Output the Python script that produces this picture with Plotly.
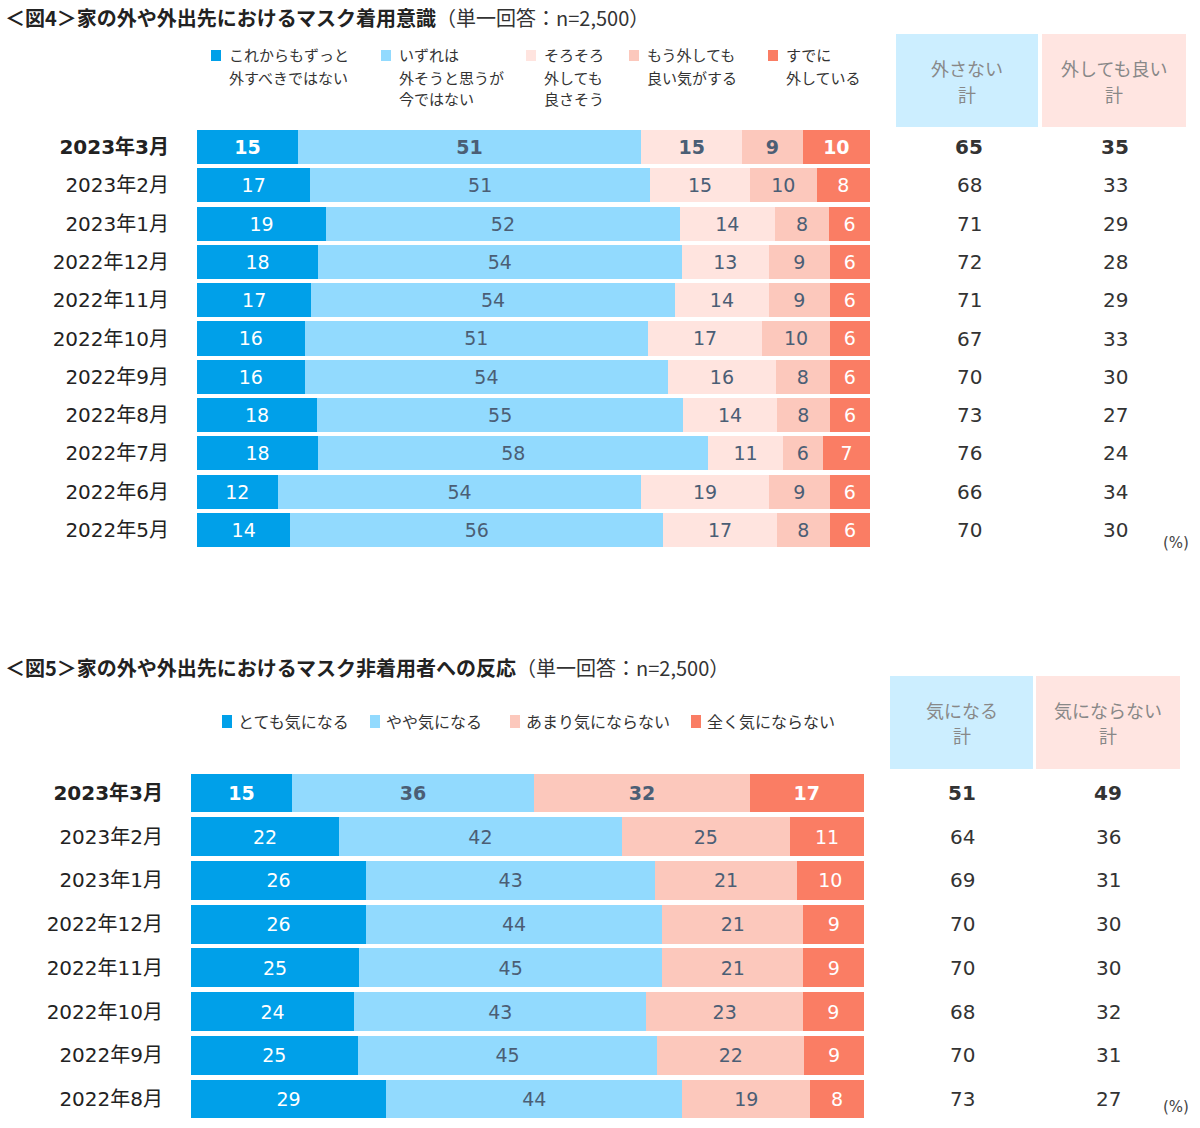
import plotly.graph_objects as go

W, H = 1200, 1128
FONT = "Noto Sans CJK JP"
NUMFONT = "DejaVu Sans, Noto Sans CJK JP"

# ---------- Data: Figure 4 ----------
months1 = ["2023年3月", "2023年2月", "2023年1月", "2022年12月", "2022年11月", "2022年10月",
           "2022年9月", "2022年8月", "2022年7月", "2022年6月", "2022年5月"]
series1_names = ["これからもずっと<br>外すべきではない", "いずれは<br>外そうと思うが<br>今ではない",
                 "そろそろ<br>外しても<br>良さそう", "もう外しても<br>良い気がする", "すでに<br>外している"]
s1_never = [15, 17, 19, 18, 17, 16, 16, 18, 18, 12, 14]
s1_notyet = [51, 51, 52, 54, 54, 51, 54, 55, 58, 54, 56]
s1_soon = [15, 15, 14, 13, 14, 17, 16, 14, 11, 19, 17]
s1_ok = [9, 10, 8, 9, 9, 10, 8, 8, 6, 9, 8]
s1_already = [10, 8, 6, 6, 6, 6, 6, 6, 7, 6, 6]
total1_keep = [65, 68, 71, 72, 71, 67, 70, 73, 76, 66, 70]
total1_remove = [35, 33, 29, 28, 29, 33, 30, 27, 24, 34, 30]
header1 = ["外さない<br>計", "外しても良い<br>計"]

# ---------- Data: Figure 5 ----------
months2 = ["2023年3月", "2023年2月", "2023年1月", "2022年12月", "2022年11月", "2022年10月",
           "2022年9月", "2022年8月"]
series2_names = ["とても気になる", "やや気になる", "あまり気にならない", "全く気にならない"]
s2_very = [15, 22, 26, 26, 25, 24, 25, 29]
s2_some = [36, 42, 43, 44, 45, 43, 45, 44]
s2_notmuch = [32, 25, 21, 21, 21, 23, 22, 19]
s2_notatall = [17, 11, 10, 9, 9, 9, 9, 8]
total2_mind = [51, 64, 69, 70, 70, 68, 70, 73]
total2_nomind = [49, 36, 31, 30, 30, 32, 31, 27]
header2 = ["気になる<br>計", "気にならない<br>計"]

title1_bold = "＜図4＞家の外や外出先におけるマスク着用意識"
title2_bold = "＜図5＞家の外や外出先におけるマスク非着用者への反応"
title_sub = "（単一回答：n=2,500）"

# ---------- Styles ----------
C_DARK = "#00A0E9"
C_LIGHT = "#92DAFE"
C_PALE = "#FFE4DF"
C_SALMON_L = "#FCC8BC"
C_SALMON = "#FA7D64"
TXT_SLATE = "#4B5E75"
HDR_BLUE = "#CCEEFF"
HDR_PINK = "#FFE5E1"

def px_x(x):
    return x / W

def px_y(y):
    return 1 - y / H

def bold_first(vals):
    return [f"<b>{v}</b>" if i == 0 else str(v) for i, v in enumerate(vals)]

fig = go.Figure()

colors1 = [C_DARK, C_LIGHT, C_PALE, C_SALMON_L, C_SALMON]
txtc1 = ["white", TXT_SLATE, TXT_SLATE, TXT_SLATE, "white"]
for name, vals, c, tc in zip(series1_names, [s1_never, s1_notyet, s1_soon, s1_ok, s1_already], colors1, txtc1):
    fig.add_trace(go.Bar(
        y=months1, x=vals, orientation="h", name=name, marker=dict(color=c, line=dict(width=0)),
        text=bold_first(vals), textposition="inside", insidetextanchor="middle", textangle=0,
        insidetextfont=dict(color=tc, size=19, family=NUMFONT), constraintext="none",
        xaxis="x", yaxis="y", showlegend=False, hoverinfo="skip"))

colors2 = [C_DARK, C_LIGHT, C_SALMON_L, C_SALMON]
txtc2 = ["white", TXT_SLATE, TXT_SLATE, "white"]
for name, vals, c, tc in zip(series2_names, [s2_very, s2_some, s2_notmuch, s2_notatall], colors2, txtc2):
    fig.add_trace(go.Bar(
        y=months2, x=vals, orientation="h", name=name, marker=dict(color=c, line=dict(width=0)),
        text=bold_first(vals), textposition="inside", insidetextanchor="middle", textangle=0,
        insidetextfont=dict(color=tc, size=19, family=NUMFONT), constraintext="none",
        xaxis="x2", yaxis="y2", showlegend=False, hoverinfo="skip"))

# axis geometry (pixels)
c1_top, c1_bot = 147 - 38.3 / 2, 530 + 38.3 / 2
c2_top, c2_bot = 793 - 43.7 / 2, 1099 + 43.7 / 2

ticks1 = [f"<b>{m}</b>" if i == 0 else m for i, m in enumerate(months1)]
ticks2 = [f"<b>{m}</b>" if i == 0 else m for i, m in enumerate(months2)]

fig.update_layout(
    width=W, height=H, margin=dict(l=0, r=0, t=0, b=0),
    paper_bgcolor="white", plot_bgcolor="white",
    barmode="stack", barnorm="percent", bargap=0.11,
    font=dict(family=FONT, color="#222222"),
    xaxis=dict(domain=[px_x(197), px_x(870)], range=[0, 100], visible=False, fixedrange=True),
    yaxis=dict(domain=[px_y(c1_bot), px_y(c1_top)], type="category", categoryorder="array",
               categoryarray=months1, range=[len(months1) - 0.5, -0.5],
               tickmode="array", tickvals=months1, ticktext=ticks1,
               showline=False, showgrid=False, ticks="", ticklabelstandoff=27,
               tickfont=dict(size=20, color="#222222", family=NUMFONT)),
    xaxis2=dict(domain=[px_x(191), px_x(864)], range=[0, 100], visible=False, fixedrange=True,
                anchor="y2"),
    yaxis2=dict(domain=[px_y(c2_bot), px_y(c2_top)], type="category", categoryorder="array",
                categoryarray=months2, range=[len(months2) - 0.5, -0.5], anchor="x2",
                tickmode="array", tickvals=months2, ticktext=ticks2,
                showline=False, showgrid=False, ticks="", ticklabelstandoff=27,
                tickfont=dict(size=20, color="#222222", family=NUMFONT)),
)

shapes = []
annos = []

# titles
for ty, tb in [(17, title1_bold), (667, title2_bold)]:
    annos.append(dict(x=px_x(3), y=px_y(ty), xref="paper", yref="paper", xanchor="left", yanchor="middle",
                      showarrow=False, align="left",
                      text=f"<b>{tb}</b><span style='font-size:20px;color:#333'>{title_sub}</span>",
                      font=dict(size=20, color="#222222", family=FONT)))

# legend 1 (one annotation per line for tight line spacing)
leg1_sq = [211, 381, 526, 629, 768]
for sx, name, c in zip(leg1_sq, series1_names, colors1):
    shapes.append(dict(type="rect", xref="paper", yref="paper", x0=px_x(sx), x1=px_x(sx + 10),
                       y0=px_y(61), y1=px_y(50), fillcolor=c, line=dict(width=0)))
    for k, line in enumerate(name.split("<br>")):
        annos.append(dict(x=px_x(sx + 16), y=px_y(55 + 22 * k), xref="paper", yref="paper",
                          xanchor="left", yanchor="middle", showarrow=False, align="left", text=line,
                          font=dict(size=15, color="#333333", family=FONT)))

# legend 2
leg2_sq = [222, 370, 510, 691]
for sx, name, c in zip(leg2_sq, series2_names, colors2):
    shapes.append(dict(type="rect", xref="paper", yref="paper", x0=px_x(sx), x1=px_x(sx + 10),
                       y0=px_y(728), y1=px_y(715), fillcolor=c, line=dict(width=0)))
    annos.append(dict(x=px_x(sx + 14), y=px_y(721), xref="paper", yref="paper", xanchor="left", yanchor="middle",
                      showarrow=False, align="left", text=name,
                      font=dict(size=16, color="#333333", family=FONT)))

# header boxes
def header(x0, x1, y0, y1, col, txt):
    shapes.append(dict(type="rect", xref="paper", yref="paper", x0=px_x(x0), x1=px_x(x1),
                       y0=px_y(y1), y1=px_y(y0), fillcolor=col, line=dict(width=0), layer="below"))
    for k, line in enumerate(txt.split("<br>")):
        annos.append(dict(x=px_x((x0 + x1) / 2), y=px_y((y0 + y1) / 2 - 13 + 26 * k), xref="paper", yref="paper",
                          xanchor="center", yanchor="middle", showarrow=False, align="center", text=line,
                          font=dict(size=18, color="#888888", family=FONT)))

header(896, 1038, 34, 127, HDR_BLUE, header1[0])
header(1042, 1186, 34, 127, HDR_PINK, header1[1])
header(890, 1033, 676, 769, HDR_BLUE, header2[0])
header(1036, 1180, 676, 769, HDR_PINK, header2[1])

# totals
for months, ta, tb, xa, xb, yr in [(months1, total1_keep, total1_remove, 969, 1115, "y"),
                                     (months2, total2_mind, total2_nomind, 962, 1108, "y2")]:
    for i, m in enumerate(months):
        for xv, val in [(xa, ta[i]), (xb, tb[i])]:
            annos.append(dict(x=px_x(xv), y=m, xref="paper", yref=yr, xanchor="center", yanchor="middle",
                              showarrow=False, text=f"<b>{val}</b>" if i == 0 else str(val),
                              font=dict(size=20, color="#333333", family=NUMFONT)))

# (%) marks
for py in [543, 1107]:
    annos.append(dict(x=px_x(1176), y=px_y(py), xref="paper", yref="paper", xanchor="center", yanchor="middle",
                      showarrow=False, text="(%)", font=dict(size=15, color="#444444", family=NUMFONT)))

fig.update_layout(shapes=shapes, annotations=annos)
fig.write_html("out.html", config={"displayModeBar": False},
               post_script="document.body.style.margin='0px';")
